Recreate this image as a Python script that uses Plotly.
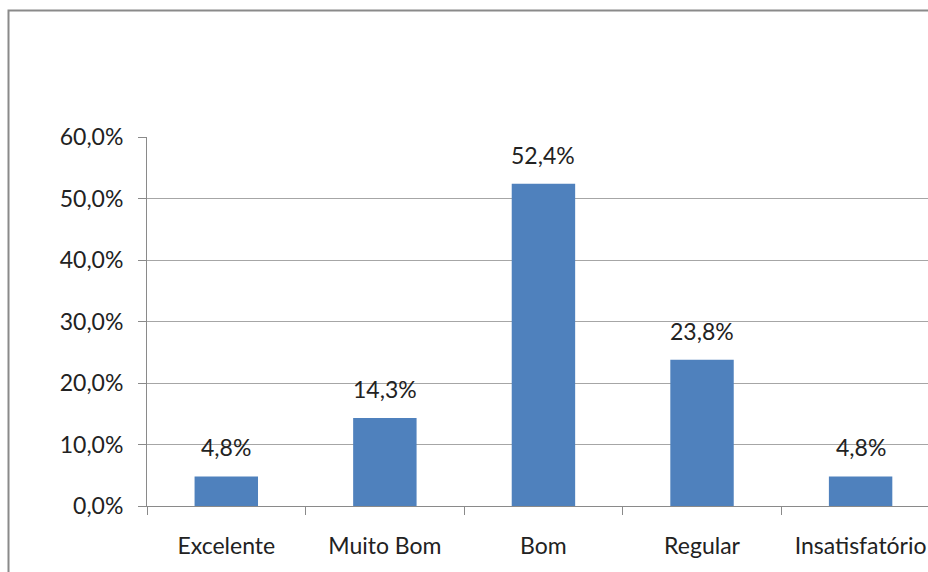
import plotly.graph_objects as go

categories = ["Excelente", "Muito Bom", "Bom", "Regular", "Insatisfatório"]
values = [4.8, 14.3, 52.4, 23.8, 4.8]
y_ticks = [0, 10, 20, 30, 40, 50, 60]

FONT = "Lato"
FS = 23
GRAY = "#8a8a8a"
TXT = "#222222"

def pct(v):
    return f"{v:.1f}".replace(".", ",") + "%"

fig = go.Figure(go.Bar(
    x=categories, y=values, width=0.4,
    marker=dict(color="#4f81bd", line=dict(width=0)),
    hoverinfo="skip",
))

annotations = [
    dict(x=c, y=v, text=pct(v), showarrow=False, xref="x", yref="y",
         yanchor="bottom", yshift=13,
         font=dict(family=FONT, size=FS, color=TXT))
    for c, v in zip(categories, values)
]

fig.update_layout(
    width=928, height=572,
    margin=dict(l=147, r=0, t=137, b=66),
    paper_bgcolor="white", plot_bgcolor="white",
    showlegend=False,
    annotations=annotations,
    xaxis=dict(
        type="category", range=[-0.5, 4.425],
        showline=True, linecolor=GRAY, linewidth=1,
        ticks="outside", tickson="boundaries", ticklen=8, tickcolor=GRAY,
        tickfont=dict(family=FONT, size=FS, color=TXT),
        ticklabelstandoff=19,
        showgrid=False,
    ),
    yaxis=dict(
        range=[0, 60], tickmode="array", tickvals=y_ticks,
        ticktext=[pct(t) for t in y_ticks],
        showline=True, linecolor=GRAY, linewidth=1,
        ticks="outside", ticklen=8, tickcolor=GRAY,
        showgrid=True, gridcolor="#a6a6a6", gridwidth=1,
        zeroline=False,
        tickfont=dict(family=FONT, size=FS, color=TXT),
        ticklabelstandoff=10,
    ),
    shapes=[dict(type="rect", xref="paper", yref="paper",
                 x0=(8.5 - 147) / 781, x1=1.2,
                 y0=-0.5, y1=(506 - 10.5) / 369,
                 line=dict(color=GRAY, width=2), fillcolor="rgba(0,0,0,0)", layer="below")],
)

fig.write_html("out.html")
